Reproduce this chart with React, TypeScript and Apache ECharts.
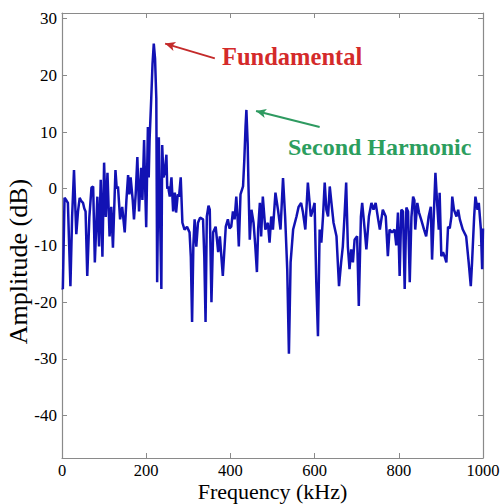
import React, { useEffect, useRef } from "react";
import * as echarts from "echarts";

// Spectrum samples (frequency in kHz, amplitude in dB)
const freqKHz = [
  0, 2, 6, 10, 14, 17, 20, 24, 28.5, 31, 34, 38, 42, 46, 50, 53, 56, 60, 65, 70,
  74, 78, 84, 88, 92, 96, 100, 104, 108, 113, 117, 121, 127, 130, 133, 138, 143, 149, 153, 157,
  160, 163, 168, 171, 175, 179, 183, 188, 191, 195, 198, 200, 204, 206, 208, 212, 215, 218, 221, 224,
  226, 230, 233, 236, 238, 241, 244, 248, 250, 252, 256, 260, 264, 268, 271, 275, 278, 282, 286, 291,
  297, 303, 306, 309, 312, 315, 319, 323, 328, 335, 338, 341, 344, 348, 351, 355, 359, 365, 371, 375,
  382, 389, 394, 398, 402, 406, 410, 414, 417, 420, 424, 430, 433, 436, 438, 441, 443, 446, 450, 455,
  459, 463, 466, 470, 473, 477, 483, 489, 493, 497, 501, 507, 513, 519, 525, 530, 535, 539, 543, 549,
  557, 562, 568, 572, 578, 584, 591, 596, 600, 604, 608, 612, 616, 620, 624, 628, 632, 636, 640, 645,
  652, 658, 663, 667, 671, 675, 679, 683, 687, 691, 695, 701, 705, 710, 713, 719, 723, 729, 735, 740,
  745, 751, 755, 762, 769, 774, 778, 784, 790, 794, 798, 802, 806, 810, 814, 818, 822, 826, 830, 834,
  837, 839, 844, 848, 853, 860, 865, 871, 876, 879, 883, 887, 891, 895, 897, 901, 905, 909, 913, 917,
  921, 925, 927, 931, 937, 941, 945, 952, 960, 966, 971, 974, 979, 982, 987, 990, 995, 998, 1000,
];
const amplitudeDb = [
  -17.5, -17.7, -1.6, -2, -2.5, -10, -17.2, -5, 3.3, -2, -8, -4, -1.6, -2.2, -2.5, -3.5, -4, -15.4, -5, 0.2,
  0.4, -13, -1.4, -10.2, 1.6, -12, 4.6, -5, 2.8, -8.4, -3.2, -10.4, 3.3, 0, 0.4, -5.4, -3.2, -7.7, -2, 2.4,
  -1, 2, -2, -5.4, -1, 5.6, -4, 3.7, -2, 8.6, -1, -6.8, 10.9, 2, 8.6, 16, 22, 25.6, 23, 16,
  -16.5, 9.1, -5, -17.7, 7.7, 2, 2.8, 6, 0, 0.4, -1.4, 2, -4, -0.7, -4.2, -1, -1.4, 2, -6, -7.2,
  -6.7, -7.7, -12, -23.5, -10, -5.4, -10.2, -6, -5.1, -5.4, -12, -23.5, -4.9, -3, -3.7, -20, -7.7, -6.7, -11.2, -8.4,
  -15.4, -6.7, -5.4, -7, -6.7, -4, -5.4, -1.4, -5, -10.2, -1, 0.4, 5, 11, 13.9, 8, 0.4, -9, -3.7, -6,
  -10, -14.7, -7, -2.5, -8.4, -1.4, -7.2, -6, -9.5, -4.9, -7.2, -0.7, -3.7, -7.2, 1.9, -4.9, -14.2, -29.1, -13, -7.2,
  -4.9, -3.2, -2.5, -4, -7.2, 1.1, -4.9, -3.7, -2.5, -16.5, -26, -7.2, -9.5, -4.9, 1.1, -3.7, -4.9, 0.4, -2.5, -6,
  -8.4, -17.2, -13, -10.2, -4.9, 1.1, -10.2, -14.2, -10.7, -13, -9, -8.4, -20.7, -4.9, -2.5, -7.2, -10.7, -4.9, -2.5, -3.7,
  -2.5, -5.4, -7.2, -3.7, -4.9, -11.9, -7.2, -7.7, -7.2, -10, -4.2, -15.4, -3.7, -4, -17.7, -3.3, -4, -16.5, -5, -1.4,
  -2, -7.2, -2.5, -4.2, -5.4, -7.2, -8.4, -4.9, -3.2, -12.5, -4.9, 2.8, -2.5, -7.2, -0.7, -11.9, -11.2, -12, -13, -6.7,
  -7, -4.9, -1.4, -3.7, -4.9, -3.7, -5.4, -7.2, -8.4, -13, -17.2, -13, -4.9, -1.4, -3.7, -2.5, -7.2, -14.2, -7,
];

const xTicks = [0, 200, 400, 600, 800, 1000];
const yTicks = [-40, -30, -20, -10, 0, 10, 20, 30];

// Annotation arrows: [tail, head] in data coordinates
const fundamentalArrow = [[363, 23.0], [245, 25.6]];
const harmonicArrow = [[612, 10.9], [461, 13.7]];

const serif = '"Liberation Serif", "Times New Roman", serif';

export default function App() {
  const ref = useRef<HTMLDivElement>(null);
  useEffect(() => {
    const chart = echarts.init(ref.current!, null, { renderer: "svg" });
    const axisColor = "#8a8a8a";
    const data = freqKHz.map((f, i) => [f, amplitudeDb[i]]);
    chart.setOption({
      animation: false,
      backgroundColor: "#ffffff",
      grid: {
        left: 62,
        right: 19,
        top: 13,
        bottom: 46,
        containLabel: false,
        outerBoundsMode: "none",
      },
      xAxis: [
        {
          type: "value",
          min: xTicks[0],
          max: xTicks[xTicks.length - 1],
          interval: 200,
          position: "bottom",
          axisLine: { show: true, onZero: false, lineStyle: { color: axisColor, width: 1.2 } },
          axisTick: { show: true, inside: true, length: 5, lineStyle: { color: axisColor } },
          axisLabel: {
            color: "#000",
            fontFamily: serif,
            fontSize: 16.5,
            margin: 4,
            formatter: (v: number) => String(v),
          },
          splitLine: { show: false },
          name: "Frequency (kHz)",
          nameLocation: "middle",
          nameGap: 22,
          nameMoveOverlap: false,
          nameTextStyle: { color: "#000", fontFamily: serif, fontSize: 22 },
        },
        {
          type: "value",
          min: xTicks[0],
          max: xTicks[xTicks.length - 1],
          interval: 200,
          position: "top",
          axisLine: { show: true, onZero: false, lineStyle: { color: axisColor, width: 1.2 } },
          axisTick: { show: true, inside: true, length: 5, lineStyle: { color: axisColor } },
          axisLabel: { show: false },
          splitLine: { show: false },
        },
      ],
      yAxis: [
        {
          type: "value",
          min: -47.5,
          max: 31,
          position: "left",
          axisLine: { show: true, onZero: false, lineStyle: { color: axisColor, width: 1.2 } },
          axisTick: { show: true, inside: true, length: 5, lineStyle: { color: axisColor }, customValues: yTicks },
          axisLabel: { color: "#000", fontFamily: serif, fontSize: 17, margin: 5, customValues: yTicks },
          splitLine: { show: false },
          name: "Amplitude (dB)",
          nameLocation: "middle",
          nameGap: 31,
          nameMoveOverlap: false,
          nameTextStyle: {
            color: "#000",
            fontFamily: serif,
            fontSize: 26,
            padding: [0, 52, 0, 0],
          },
        },
        {
          type: "value",
          min: -47.5,
          max: 31,
          position: "right",
          axisLine: { show: true, onZero: false, lineStyle: { color: axisColor, width: 1.2 } },
          axisTick: { show: true, inside: true, length: 5, lineStyle: { color: axisColor }, customValues: yTicks },
          axisLabel: { show: false },
          splitLine: { show: false },
        },
      ],
      series: [
        {
          type: "line",
          data,
          xAxisIndex: 0,
          yAxisIndex: 0,
          showSymbol: false,
          symbol: "none",
          lineStyle: { color: "#1212b4", width: 2.5 },
          itemStyle: { color: "#1212b4" },
          markLine: {
            silent: true,
            animation: false,
            symbol: ["none", "arrow"],
            symbolSize: [7, 10],
            label: { show: false },
            data: [
              [
                { coord: fundamentalArrow[0], lineStyle: { color: "#c42a2a", width: 2, type: "solid" }, itemStyle: { color: "#c42a2a" } },
                { coord: fundamentalArrow[1] },
              ],
              [
                { coord: harmonicArrow[0], lineStyle: { color: "#2e9a60", width: 2, type: "solid" }, itemStyle: { color: "#2e9a60" } },
                { coord: harmonicArrow[1] },
              ],
            ],
          },
        },
      ],
      graphic: [
        {
          type: "text",
          x: 222,
          y: 56,
          silent: true,
          style: {
            text: "Fundamental",
            fill: "#d42a2a",
            fontFamily: serif,
            fontWeight: "bold",
            fontSize: 24.5,
            verticalAlign: "middle",
          },
        },
        {
          type: "text",
          x: 288,
          y: 147,
          silent: true,
          style: {
            text: "Second Harmonic",
            fill: "#2c9e5e",
            fontFamily: serif,
            fontWeight: "bold",
            fontSize: 24,
            verticalAlign: "middle",
          },
        },
      ],
    });
    return () => chart.dispose();
  }, []);
  return (
    <div
      ref={ref}
      style={{ position: "fixed", left: 0, top: 0, width: 502, height: 504 }}
    />
  );
}
